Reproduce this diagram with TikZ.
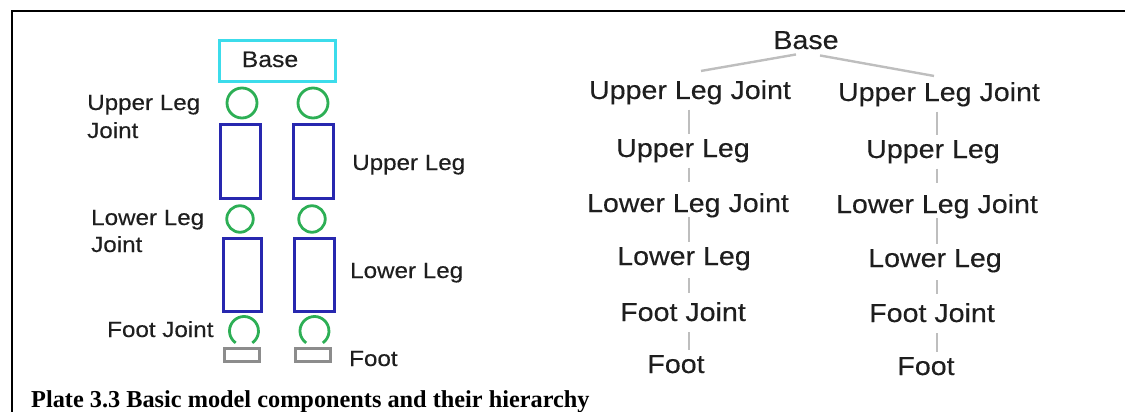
\documentclass[tikz,border=0pt]{standalone}
\usepackage{fontspec}
\setmainfont{Liberation Sans}
\newfontfamily\lblfont[FakeStretch=1.1,FakeBold=0.3]{Liberation Sans}
\newfontfamily\capfont{Liberation Serif}
\definecolor{cyanL}{RGB}{60,220,235}
\definecolor{greenL}{RGB}{45,175,85}
\definecolor{blueL}{RGB}{40,40,175}
\definecolor{grayL}{RGB}{140,140,140}
\definecolor{treeG}{RGB}{190,190,190}
\definecolor{txt}{RGB}{30,30,30}
\begin{document}
\begin{tikzpicture}[x=1pt,y=-1pt,
  lbl/.style={font=\lblfont\fontsize{22}{26}\selectfont, text=txt, inner sep=0pt, anchor=base west},
  tr/.style={font=\lblfont\fontsize{26}{30}\selectfont, text=txt, inner xsep=0pt, inner ysep=5pt, anchor=base},
  joint/.style={circle, draw=greenL, line width=2.8pt, minimum size=30pt, inner sep=0pt},
  jointb/.style={joint, minimum size=26.5pt},
  limb/.style={draw=blueL, line width=3pt, inner sep=0pt, minimum width=40pt, minimum height=74pt},
  footbox/.style={draw=grayL, line width=2.8pt, inner sep=0pt, minimum width=35.2pt, minimum height=13.2pt},
  tline/.style={draw=treeG, line width=2.4pt}]
\useasboundingbox (0,0) rectangle (1125,412);
% frame
\draw[line width=2pt] (1125,11) -- (11.5,11) -- (11.5,412);
% ---------- left figure ----------
\node[draw=cyanL, line width=2.6pt, minimum width=116.4pt, minimum height=41.4pt, inner sep=0pt] (basebox) at (277.5,61) {};
\node[font=\lblfont\fontsize{22.5}{26}\selectfont, text=txt, inner sep=0pt, anchor=base] (basetxt) at (270,67) {Base};
\node[joint] (ujL) at (242,103) {};
\node[joint] (ujR) at (313,103) {};
\node[limb] (ulL) at (240.5,161.5) {};
\node[limb] (ulR) at (313.5,161.5) {};
\node[jointb] (ljL) at (240,219) {};
\node[jointb] (ljR) at (312,219) {};
\node[limb, minimum width=38pt, minimum height=73pt] (llL) at (242.5,275) {};
\node[limb, minimum height=73pt] (llR) at (314.5,275) {};
\draw[greenL, line width=2.8pt] (244,331) ++(125:14.5) arc[start angle=125, end angle=415, radius=14.5];
\draw[greenL, line width=2.8pt] (314.5,331) ++(125:14.5) arc[start angle=125, end angle=415, radius=14.5];
\node[footbox] (ftL) at (242,355) {};
\node[footbox] (ftR) at (313,355) {};
% labels
\node[lbl] (l1) at (87,110) {Upper Leg};
\node[lbl] (l2) at (87,138) {Joint};
\node[lbl] (l3) at (91,225) {Lower Leg};
\node[lbl] (l4) at (91,252) {Joint};
\node[lbl] (l5) at (107,337) {Foot Joint};
\node[lbl] (r1) at (352,170) {Upper Leg};
\node[lbl] (r2) at (350,278) {Lower Leg};
\node[lbl] (r3) at (349,366) {Foot};
% ---------- tree ----------
\node[tr] (base) at (806,49) {Base};
\node[tr] (ulj1) at (690,99) {Upper Leg Joint};
\node[tr] (ulj2) at (939,101) {Upper Leg Joint};
\node[tr] (ul1) at (683,157) {Upper Leg};
\node[tr] (ul2) at (933,158) {Upper Leg};
\node[tr] (llj1) at (688,212) {Lower Leg Joint};
\node[tr] (llj2) at (937,213) {Lower Leg Joint};
\node[tr] (ll1) at (684,265) {Lower Leg};
\node[tr] (ll2) at (935,267) {Lower Leg};
\node[tr] (fj1) at (683,321) {Foot Joint};
\node[tr] (fj2) at (932,322) {Foot Joint};
\node[tr] (ft1) at (676,373) {Foot};
\node[tr] (ft2) at (926,375) {Foot};
\coordinate (cL) at (689,0);
\coordinate (cR) at (937,0);
\draw[tline] ([xshift=-10pt]base.south) -- ([shift={(11,-4)}]ulj1.north);
\draw[tline] ([shift={(14,1)}]base.south) -- ([shift={(-5,-1)}]ulj2.north);
\foreach \c/\a/\b in {cL/ulj1/ul1, cR/ulj2/ul2}{
  \draw[tline] (\a.south -| \c) -- (\b.north -| \c);}
\foreach \c/\a/\b in {cL/ul1/llj1, cR/ul2/llj2}{
  \draw[tline, shorten >=6pt] (\a.south -| \c) -- (\b.north -| \c);}
\foreach \c/\a/\b in {cL/llj1/ll1, cR/llj2/ll2}{
  \draw[tline, shorten <=-5.5pt] (\a.south -| \c) -- (\b.north -| \c);}
\foreach \c/\a/\b in {cL/ll1/fj1, cR/ll2/fj2}{
  \draw[tline, shorten <=2.5pt, shorten >=4.4pt] (\a.south -| \c) -- (\b.north -| \c);}
\foreach \c/\a/\b in {cL/fj1/ft1, cR/fj2/ft2}{
  \draw[tline, shorten <=6pt] (\a.south -| \c) -- (\b.north -| \c);}
% caption
\node[anchor=base west, inner sep=0pt, font=\capfont\bfseries\fontsize{24.3}{28}\selectfont] (cap) at (31,407) {Plate 3.3 Basic model components and their hierarchy};
\end{tikzpicture}
\end{document}
